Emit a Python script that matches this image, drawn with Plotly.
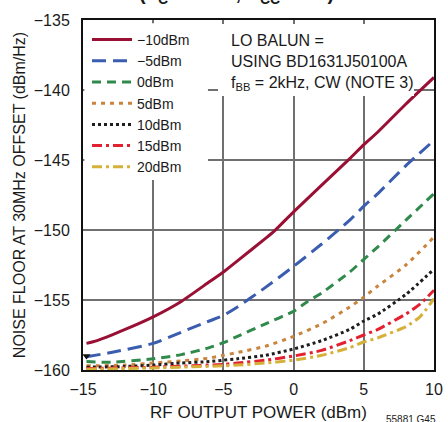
import plotly.graph_objects as go

# ---- data ----
x_m10 = [-14.75, -14.0, -12.0, -10.0, -8.0, -6.0, -5.0, -4.0, -2.0, -1.4, 0.0, 2.0, 4.0, 5.0, 6.0, 8.0, 10.0]
y_m10 = [-158.1, -157.9, -157.1, -156.2, -155.1, -153.7, -153.0, -152.2, -150.6, -150.1, -148.7, -146.8, -144.9, -143.9, -143.0, -141.0, -139.1]

x_m5 = [-14.75, -13.0, -10.0, -8.0, -6.0, -5.0, -4.0, -2.0, 0.0, 2.0, 4.0, 5.0, 6.0, 8.0, 10.0]
y_m5 = [-159.05, -158.75, -158.1, -157.3, -156.5, -156.1, -155.5, -154.1, -152.6, -151.0, -149.3, -148.3, -147.4, -145.4, -143.6]

x_0 = [-14.75, -13.0, -10.0, -8.0, -6.0, -5.0, -4.0, -2.0, 0.0, 1.0, 2.0, 4.0, 5.0, 6.0, 8.0, 10.0]
y_0 = [-159.4, -159.45, -159.2, -158.9, -158.4, -158.05, -157.6, -156.7, -155.8, -155.1, -154.5, -153.0, -152.1, -151.2, -149.3, -147.4]

x_5 = [-14.75, -12.0, -10.0, -8.0, -6.0, -5.0, -4.0, -2.0, 0.0, 2.0, 4.0, 5.0, 6.0, 8.0, 10.0]
y_5 = [-159.7, -159.65, -159.5, -159.35, -159.15, -158.95, -158.75, -158.3, -157.6, -156.7, -155.5, -154.8, -154.0, -152.5, -150.5]

x_10 = [-14.75, -12.0, -10.0, -8.0, -6.0, -5.0, -4.0, -2.0, 0.0, 2.0, 4.0, 5.0, 6.0, 8.0, 10.0]
y_10 = [-159.8, -159.75, -159.65, -159.5, -159.4, -159.3, -159.2, -158.95, -158.5, -157.9, -157.1, -156.5, -156.0, -154.6, -152.8]

x_15 = [-14.75, -10.0, -5.0, -4.0, -2.0, 0.0, 2.0, 4.0, 5.0, 6.0, 8.0, 9.0, 10.0]
y_15 = [-159.9, -159.8, -159.6, -159.5, -159.3, -159.0, -158.6, -157.9, -157.5, -157.1, -156.0, -155.3, -154.3]

x_20 = [-14.75, -10.0, -5.0, -4.0, -2.0, 0.0, 2.0, 4.0, 5.0, 6.0, 8.0, 9.0, 10.0]
y_20 = [-159.95, -159.85, -159.7, -159.65, -159.5, -159.3, -158.95, -158.4, -158.0, -157.7, -156.9, -156.2, -154.9]

marker_x = [-14.75]
marker_y = [-159.0]

series_names = ["\u221210dBm", "\u22125dBm", "0dBm", "5dBm", "10dBm", "15dBm", "20dBm"]
x_ticks = [-15, -10, -5, 0, 5, 10]
x_tick_labels = ["\u221215", "\u221210", "\u22125", "0", "5", "10"]
y_ticks = [-160, -155, -150, -145, -140, -135]
y_tick_labels = ["\u2212160", "\u2212155", "\u2212150", "\u2212145", "\u2212140", "\u2212135"]

# ---- styles ----
colors = ["#9a0f34", "#3b5daf", "#2f8a4c", "#c9843e", "#1e1e1e", "#e3202f", "#d6b13a"]
dashes = ["solid", "14px,7px", "9px,6px", "4px,5px", "3px,3px", "10px,4px,3px,4px", "10px,4px,3px,4px"]
xs = [x_m10, x_m5, x_0, x_5, x_10, x_15, x_20]
ys = [y_m10, y_m5, y_0, y_5, y_10, y_15, y_20]

FONT = "Liberation Sans, Arial, sans-serif"
NARROW = "Liberation Sans Narrow, Arial Narrow, Liberation Sans, sans-serif"

fig = go.Figure()
for name, xv, yv, c, d in zip(series_names, xs, ys, colors, dashes):
    fig.add_trace(go.Scatter(x=xv, y=yv, mode="lines", name=name,
                             line=dict(color=c, width=3, dash=d, shape="spline", smoothing=0.6)))

fig.add_trace(go.Scatter(x=marker_x, y=marker_y, mode="markers", showlegend=False,
                         marker=dict(symbol="triangle-down", size=7, color="#111111")))

fig.update_layout(
    width=448, height=422,
    margin=dict(l=83, r=14, t=20, b=52, autoexpand=False),
    paper_bgcolor="white", plot_bgcolor="white",
    font=dict(family=FONT, size=16, color="#1a1a1a"),
    showlegend=True,
    legend=dict(x=0.0114, y=0.9886, xanchor="left", yanchor="top",
                bgcolor="rgba(0,0,0,0)", borderwidth=0, font=dict(size=14),
                itemwidth=40, tracegroupgap=0),
    xaxis=dict(range=[-15, 10], tickvals=x_ticks, ticktext=x_tick_labels,
               showgrid=True, gridcolor="#707070", gridwidth=2,
               showline=True, linecolor="#111111", linewidth=2, mirror=True,
               ticks="", zeroline=False, ticklabelstandoff=4, automargin=False,
               title=dict(text="RF OUTPUT POWER (dBm)", standoff=19,
                          font=dict(family=NARROW, size=17))),
    yaxis=dict(range=[-160, -135], tickvals=y_ticks, ticktext=y_tick_labels,
               showgrid=True, gridcolor="#707070", gridwidth=2,
               showline=True, linecolor="#111111", linewidth=2, mirror=True,
               ticks="", zeroline=False, ticklabelstandoff=8, automargin=False,
               title=dict(text="NOISE FLOOR AT 30MHz OFFSET (dBm/Hz)", standoff=4,
                          font=dict(family=NARROW, size=16))),
)

# white boxes behind legend and note (they hide the gridlines there)
fig.add_shape(type="rect", xref="paper", yref="paper", x0=0.004, x1=0.356, y0=0.543, y1=0.991,
              fillcolor="white", line=dict(width=0), layer="above")
fig.add_shape(type="rect", xref="paper", yref="paper", x0=0.3846, x1=0.943, y0=0.783, y1=0.9886,
              fillcolor="white", line=dict(width=0), layer="above")

fig.add_annotation(xref="paper", yref="paper", x=0.418, y=0.9686, xanchor="left", yanchor="top",
                   text="LO BALUN =<br>USING BD1631J50100A<br>f<sub>BB</sub> = 2kHz, CW (NOTE 3)",
                   align="left", showarrow=False, borderpad=0,
                   font=dict(size=16, family=FONT))

fig.add_annotation(xref="paper", yref="paper", x=0.4387, y=1.03, xanchor="center", yanchor="bottom",
                   text="<b>(T<sub>C</sub> = 25\u00b0C, V<sub>CC</sub> = 5V)</b>",
                   showarrow=False, font=dict(size=20, family=NARROW))

fig.add_annotation(xref="paper", yref="paper", x=1.01, y=-0.14, xanchor="right", yanchor="middle",
                   text="55881 G45", showarrow=False, font=dict(size=10, family=NARROW))

fig.write_html("out.html", config={"displayModeBar": False},
               post_script="document.body.style.margin='0';document.body.style.padding='0';")
